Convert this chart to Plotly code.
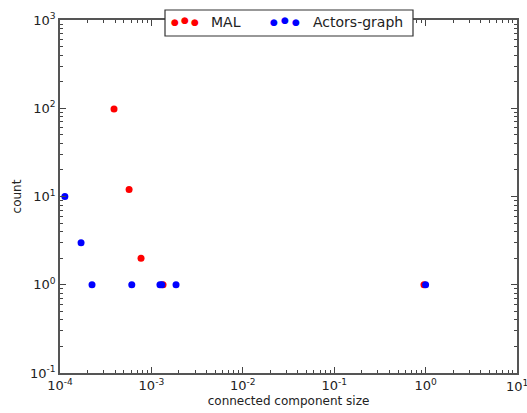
import plotly.graph_objects as go

# Data
mal_x = [3.9e-4, 5.7e-4, 7.7e-4, 1.34e-3, 0.96]
mal_y = [98, 12, 2, 1, 1]
actors_x = [1.13e-4, 1.7e-4, 2.24e-4, 6.1e-4, 1.24e-3, 1.30e-3, 1.86e-3, 1.0]
actors_y = [10, 3, 1, 1, 1, 1, 1, 1]

x_exps = [-4, -3, -2, -1, 0, 1]
y_exps = [-1, 0, 1, 2, 3]

def pow_label(e):
    return "10<sup>%s</sup>" % e

def minor_vals(lo, hi):
    vals = []
    for e in range(lo, hi):
        for m in range(2, 10):
            vals.append(m * 10 ** e)
    return vals

FONT = "DejaVu Sans"
TICK_SIZE = 13

fig = go.Figure()
fig.add_trace(go.Scatter(x=mal_x, y=mal_y, mode="markers", name="MAL",
                         marker=dict(color="#ff0000", size=7, line=dict(width=0))))
fig.add_trace(go.Scatter(x=actors_x, y=actors_y, mode="markers", name="Actors-graph",
                         marker=dict(color="#0000ff", size=7, line=dict(width=0))))

axis_common = dict(
    type="log", ticks="inside", ticklen=6, tickwidth=1, tickcolor="#444",
    showline=True, linecolor="#555", linewidth=1.5, mirror="allticks",
    showgrid=False, zeroline=False, automargin=False,
    tickfont=dict(family=FONT, size=TICK_SIZE, color="#222"),
)

# last x label is drawn as an annotation (it overflows the page edge, as in the reference)
x_ticktext = [pow_label(e) for e in x_exps]
x_ticktext[-1] = ""

fig.update_xaxes(
    **axis_common,
    range=[-4, 1],
    tickmode="array", tickvals=[10 ** e for e in x_exps],
    ticktext=x_ticktext,
    minor=dict(tickmode="array", tickvals=minor_vals(-4, 1), ticks="inside",
               ticklen=3, tickcolor="#444", showgrid=False),
    title=dict(text="connected component size", font=dict(family=FONT, size=12, color="#222"),
               standoff=4),
)
fig.update_yaxes(
    **axis_common,
    range=[-1, 3],
    tickmode="array", tickvals=[10 ** e for e in y_exps],
    ticktext=[pow_label(e) for e in y_exps],
    minor=dict(tickmode="array", tickvals=minor_vals(-1, 3), ticks="inside",
               ticklen=3, tickcolor="#444", showgrid=False),
    title=dict(text="count", font=dict(family=FONT, size=12, color="#222"), standoff=6),
)

W, H = 527, 413
ml, mr, mt, mb = 60, 10, 20, 40
pw, ph = W - ml - mr, H - mt - mb

def px(x):
    return (x - ml) / pw

def py(y):
    return (H - mb - y) / ph

# Custom legend box (matplotlib-style with three scatter points)
fig.add_shape(type="rect", xref="paper", yref="paper",
              x0=px(165), x1=px(413), y0=py(36), y1=py(10),
              line=dict(color="#333", width=1.2), fillcolor="white", layer="above")

annotations = []
for (xx, yy) in [(175, 22), (185, 20.5), (195, 22)]:
    annotations.append(dict(x=px(xx), y=py(yy), xref="paper", yref="paper", text="●",
                            showarrow=False, font=dict(family=FONT, size=9, color="#ff0000"),
                            xanchor="center", yanchor="middle"))
for (xx, yy) in [(274, 22), (285, 20.5), (296, 22)]:
    annotations.append(dict(x=px(xx), y=py(yy), xref="paper", yref="paper", text="●",
                            showarrow=False, font=dict(family=FONT, size=9, color="#0000ff"),
                            xanchor="center", yanchor="middle"))
annotations.append(dict(x=px(209), y=py(22), xref="paper", yref="paper", text="MAL",
                        showarrow=False, font=dict(family=FONT, size=14, color="#222"),
                        xanchor="left", yanchor="middle"))
annotations.append(dict(x=px(311), y=py(22), xref="paper", yref="paper", text="Actors-graph",
                        showarrow=False, font=dict(family=FONT, size=14, color="#222"),
                        xanchor="left", yanchor="middle"))
annotations.append(dict(x=x_exps[-1], y=0, xref="x", yref="paper", yshift=-3,
                        text=pow_label(x_exps[-1]), showarrow=False,
                        font=dict(family=FONT, size=TICK_SIZE, color="#222"),
                        xanchor="center", yanchor="top"))

fig.update_layout(
    width=W, height=H,
    margin=dict(l=ml, r=mr, t=mt, b=mb),
    paper_bgcolor="white", plot_bgcolor="white",
    showlegend=False,
    annotations=annotations,
    font=dict(family=FONT),
)

fig.write_html("out.html")
